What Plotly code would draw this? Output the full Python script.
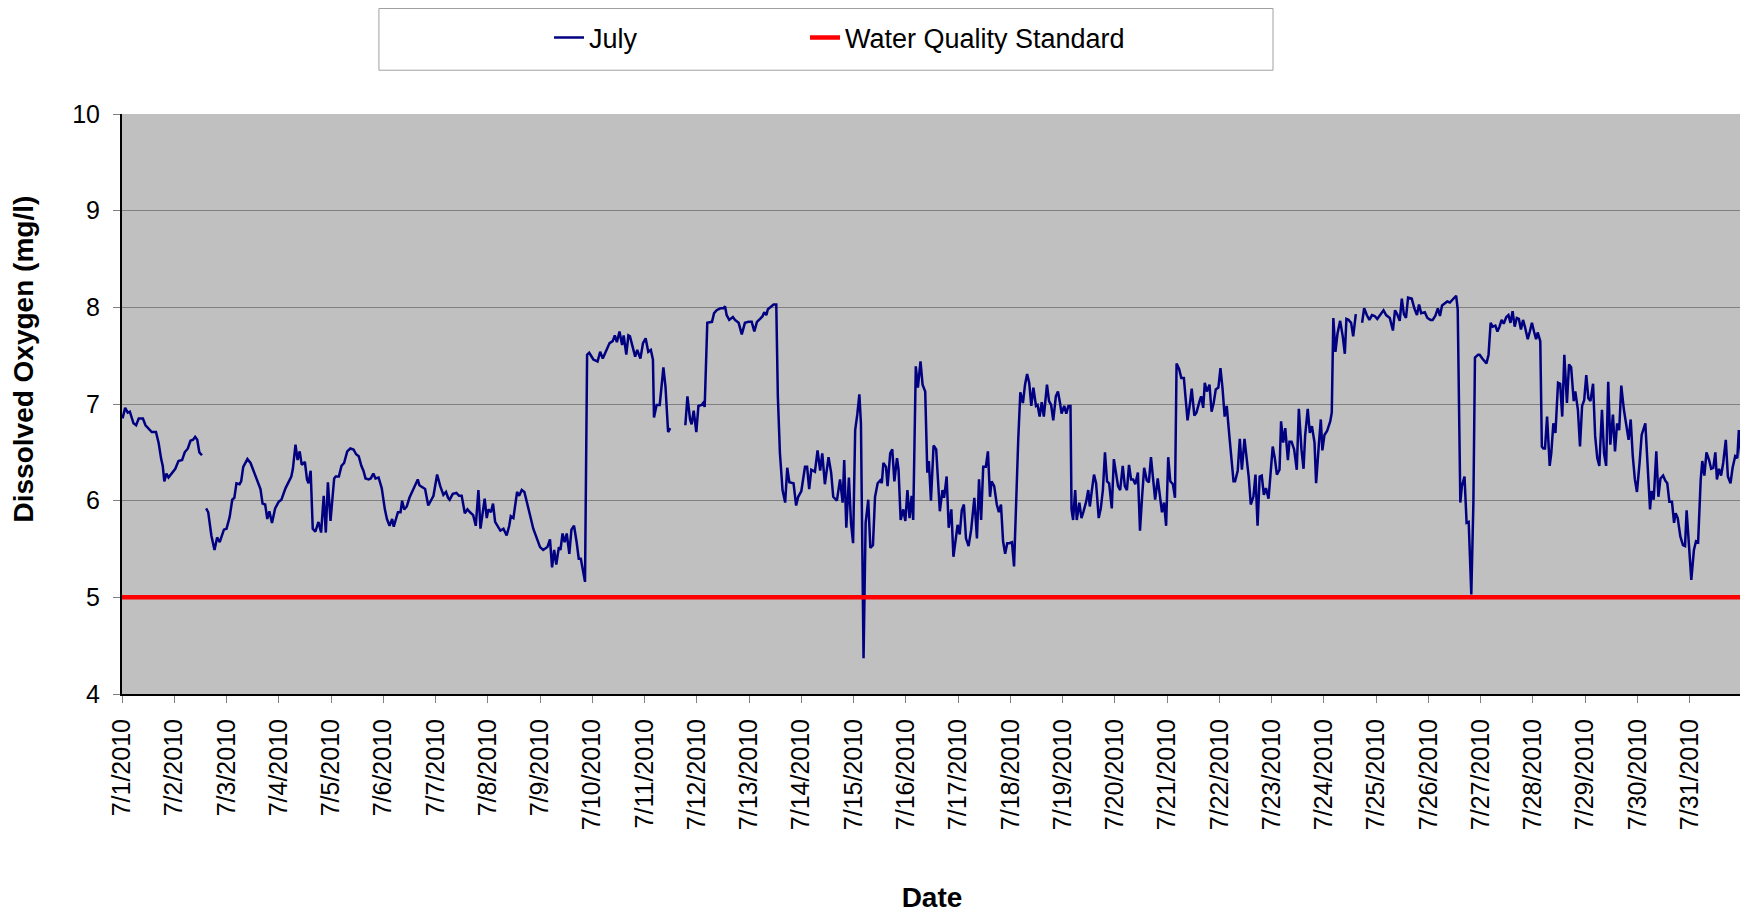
import pandas as pd
import plotly.graph_objs as go

# === DATA ===
start_date = pd.Timestamp('2010-07-01')

# elapsed days since 7/1/2010 00:00 (None in values = logger gap)
days = [
    0.01, 0.06, 0.11, 0.15, 0.22, 0.27, 0.32, 0.40, 0.45, 0.51, 0.57, 0.65, 0.70, 0.75, 0.78, 0.81,
    0.85, 0.89, 0.96, 1.02, 1.08, 1.15, 1.20, 1.26, 1.31, 1.36, 1.40, 1.44, 1.48, 1.53, 1.57,
    1.61, 1.65, 1.71, 1.77, 1.82, 1.87, 1.95, 2.00, 2.06, 2.11, 2.15, 2.19, 2.25, 2.28, 2.32, 2.40,
    2.46, 2.54, 2.60, 2.65, 2.69, 2.74, 2.78, 2.82, 2.87, 2.93, 3.00, 3.05, 3.13, 3.18, 3.24, 3.27,
    3.32, 3.36, 3.40, 3.44, 3.50, 3.54, 3.57, 3.61, 3.65, 3.70, 3.76, 3.81, 3.86, 3.90, 3.94, 3.99,
    4.06, 4.09, 4.15, 4.20, 4.25, 4.31, 4.37, 4.43, 4.48, 4.53, 4.58, 4.62, 4.66, 4.72, 4.76, 4.81,
    4.85, 4.91, 4.97, 5.03, 5.07, 5.12, 5.17, 5.20, 5.28, 5.33, 5.36, 5.40, 5.45, 5.50, 5.58, 5.66,
    5.69, 5.80, 5.86, 5.92, 5.96, 6.03, 6.09, 6.15, 6.20, 6.24, 6.27, 6.33, 6.40, 6.45, 6.50, 6.56,
    6.61, 6.66, 6.72, 6.77, 6.82, 6.86, 6.90, 6.94, 6.98, 7.01, 7.06, 7.10, 7.14, 7.20, 7.24, 7.30,
    7.36, 7.41, 7.44, 7.49, 7.56, 7.60, 7.65, 7.70, 7.74, 7.79, 7.87, 7.93, 8.00, 8.06, 8.14, 8.19,
    8.23, 8.27, 8.31, 8.36, 8.39, 8.43, 8.47, 8.51, 8.56, 8.60, 8.65, 8.70, 8.74, 8.78, 8.86, 8.90,
    8.94, 9.02, 9.10, 9.15, 9.20, 9.28, 9.33, 9.39, 9.43, 9.47, 9.52, 9.57, 9.60, 9.65, 9.69, 9.72,
    9.78, 9.82, 9.86, 9.92, 9.97, 10.02, 10.07, 10.12, 10.16, 10.18, 10.23, 10.29, 10.36, 10.40, 10.45, 10.49,
    10.60, 10.78, 10.82, 10.87, 10.90, 10.94, 10.99, 11.03, 11.09, 11.12, 11.15, 11.20, 11.29, 11.33, 11.38, 11.45,
    11.51, 11.54, 11.57, 11.62, 11.69, 11.73, 11.80, 11.86, 11.92, 11.99, 12.05, 12.10, 12.15, 12.21, 12.26, 12.29,
    12.33, 12.36, 12.40, 12.47, 12.52, 12.55, 12.59, 12.64, 12.69, 12.73, 12.77, 12.85, 12.90, 12.94, 13.00, 13.04,
    13.07, 13.11, 13.15, 13.19, 13.26, 13.31, 13.36, 13.40, 13.45, 13.52, 13.57, 13.61, 13.68, 13.74, 13.79, 13.82,
    13.86, 13.91, 13.95, 13.99, 14.03, 14.07, 14.11, 14.14, 14.19, 14.23, 14.28, 14.32, 14.37, 14.41, 14.46, 14.51,
    14.54, 14.57, 14.62, 14.65, 14.70, 14.74, 14.78, 14.83, 14.86, 14.90, 14.95, 14.99, 15.03, 15.07, 15.11, 15.14,
    15.19, 15.23, 15.28, 15.32, 15.37, 15.41, 15.44, 15.48, 15.53, 15.58, 15.62, 15.65, 15.70, 15.73, 15.75, 15.78,
    15.82, 15.87, 15.91, 15.95, 15.99, 16.03, 16.07, 16.11, 16.15, 16.20, 16.25, 16.31, 16.36, 16.40, 16.44, 16.48,
    16.53, 16.57, 16.61, 16.64, 16.69, 16.74, 16.78, 16.82, 16.86, 16.90, 16.94, 16.98, 17.03, 17.07, 17.12, 17.15,
    17.19, 17.24, 17.28, 17.32, 17.36, 17.40, 17.44, 17.49, 17.52, 17.56, 17.60, 17.64, 17.70, 17.74, 17.78, 17.82,
    17.87, 17.91, 17.95, 17.98, 18.03, 18.07, 18.11, 18.15, 18.17, 18.20, 18.24, 18.27, 18.32, 18.36, 18.40, 18.45,
    18.49, 18.52, 18.56, 18.60, 18.64, 18.69, 18.73, 18.77, 18.81, 18.85, 18.89, 18.94, 18.98, 19.02, 19.06, 19.10,
    19.15, 19.19, 19.23, 19.27, 19.31, 19.35, 19.39, 19.44, 19.48, 19.52, 19.56, 19.61, 19.65, 19.69, 19.74, 19.77,
    19.82, 19.86, 19.90, 19.94, 19.98, 20.02, 20.06, 20.11, 20.15, 20.18, 20.23, 20.27, 20.32, 20.35, 20.39, 20.44,
    20.47, 20.52, 20.56, 20.62, 20.65, 20.69, 20.72, 20.76, 20.81, 20.85, 20.89, 20.93, 20.98, 21.02, 21.06, 21.10,
    21.14, 21.19, 21.23, 21.27, 21.30, 21.35, 21.39, 21.43, 21.48, 21.52, 21.56, 21.60, 21.65, 21.69, 21.73, 21.77,
    21.81, 21.85, 21.89, 21.94, 21.97, 22.02, 22.06, 22.10, 22.15, 22.18, 22.22, 22.26, 22.31, 22.34, 22.38, 22.43,
    22.48, 22.52, 22.57, 22.61, 22.64, 22.69, 22.73, 22.77, 22.82, 22.85, 22.90, 22.94, 22.97, 23.01, 23.06, 23.12,
    23.15, 23.18, 23.22, 23.26, 23.31, 23.36, 23.40, 23.43, 23.47, 23.52, 23.56, 23.61, 23.66, 23.73, 23.77, 23.82,
    23.87, 23.92, 23.97, 24.02, 24.07, 24.14, 24.19, 24.26, 24.32, 24.36, 24.40, 24.45, 24.49, 24.53, 24.57, 24.61,
    24.68, 24.73, 24.78, 24.82, 24.86, 24.93, 24.98, 25.04, 25.08, 25.13, 25.18, 25.22, 25.26, 25.31, 25.36, 25.41,
    25.46, 25.53, 25.56, 25.58, 25.61, 25.64, 25.69, 25.73, 25.77, 25.82, 25.86, 25.89, 25.95, 25.98, 26.03, 26.11,
    26.15, 26.19, 26.23, 26.28, 26.32, 26.36, 26.40, 26.44, 26.49, 26.53, 26.57, 26.61, 26.65, 26.69, 26.73, 26.77,
    26.81, 26.85, 26.90, 26.94, 26.98, 27.02, 27.06, 27.09, 27.14, 27.17, 27.20, 27.23, 27.27, 27.32, 27.35, 27.39,
    27.43, 27.48, 27.52, 27.56, 27.60, 27.65, 27.69, 27.73, 27.78, 27.81, 27.86, 27.90, 27.94, 27.98, 28.02, 28.06,
    28.10, 28.15, 28.19, 28.23, 28.27, 28.32, 28.36, 28.40, 28.44, 28.48, 28.53, 28.57, 28.61, 28.65, 28.69, 28.74,
    28.78, 28.83, 28.87, 28.91, 28.95, 28.99, 29.04, 29.08, 29.15, 29.19, 29.24, 29.27, 29.31, 29.36, 29.40, 29.44,
    29.49, 29.53, 29.57, 29.61, 29.66, 29.70, 29.73, 29.77, 29.82, 29.87, 29.91, 29.94, 29.99, 30.03, 30.08, 30.12,
    30.16, 30.21, 30.24, 30.28, 30.32, 30.37, 30.41, 30.45, 30.49, 30.52, 30.56, 30.60, 30.64, 30.69, 30.73, 30.78,
    30.82, 30.87, 30.91, 30.94, 31.00,
]

dissolved_oxygen = [
    6.85, 6.96, 6.91, 6.92, 6.80, 6.78, 6.85, 6.85, 6.78, 6.75, 6.71, 6.71, 6.60, 6.43, 6.36, 6.20,
    6.28, 6.24, 6.29, 6.33, 6.41, 6.42, 6.50, 6.54, 6.62, 6.63, 6.66, 6.63, 6.50, 6.47, None,
    5.92, 5.88, 5.64, 5.49, 5.62, 5.57, 5.70, 5.71, 5.83, 6.01, 6.03, 6.18, 6.17, 6.20, 6.35, 6.43,
    6.39, 6.27, 6.19, 6.12, 5.97, 5.96, 5.81, 5.89, 5.77, 5.92, 5.99, 6.01, 6.13, 6.19, 6.25, 6.33,
    6.58, 6.42, 6.51, 6.37, 6.40, 6.22, 6.18, 6.31, 5.71, 5.68, 5.78, 5.67, 6.05, 5.67, 6.19, 5.79,
    6.23, 6.25, 6.25, 6.36, 6.39, 6.51, 6.54, 6.53, 6.48, 6.46, 6.36, 6.31, 6.23, 6.22, 6.23, 6.28,
    6.23, 6.24, 6.13, 5.91, 5.81, 5.74, 5.81, 5.73, 5.88, 5.88, 6.00, 5.91, 5.94, 6.03, 6.12, 6.22,
    6.16, 6.12, 5.95, 6.01, 6.05, 6.27, 6.15, 6.06, 6.09, 6.03, 6.01, 6.07, 6.08, 6.05, 6.05, 5.87,
    5.91, 5.88, 5.85, 5.74, 6.11, 5.71, 5.89, 6.02, 5.82, 5.91, 5.88, 5.97, 5.78, 5.72, 5.69, 5.71,
    5.64, 5.74, 5.84, 5.82, 6.09, 6.05, 6.11, 6.09, 5.99, 5.89, 5.71, 5.62, 5.52, 5.49, 5.52, 5.60,
    5.31, 5.49, 5.34, 5.52, 5.49, 5.66, 5.57, 5.66, 5.45, 5.70, 5.74, 5.57, 5.40, 5.40, 5.16, 7.51,
    7.53, 7.46, 7.44, 7.54, 7.47, 7.57, 7.63, 7.65, 7.71, 7.64, 7.75, 7.61, 7.71, 7.51, 7.71, 7.70,
    7.56, 7.49, 7.56, 7.47, 7.63, 7.68, 7.54, 7.56, 7.46, 6.86, 6.99, 6.99, 7.38, 7.18, 6.71, 6.75,
    None, 6.78, 7.08, 6.84, 6.79, 6.93, 6.71, 6.98, 6.99, 7.01, 6.97, 7.84, 7.85, 7.94, 7.97, 7.99,
    7.99, 8.01, 7.92, 7.87, 7.90, 7.87, 7.84, 7.72, 7.84, 7.85, 7.85, 7.75, 7.85, 7.88, 7.91, 7.95,
    7.92, 7.98, 8.00, 8.03, 8.03, 7.08, 6.49, 6.11, 5.98, 6.34, 6.19, 6.18, 5.95, 6.04, 6.10, 6.27,
    6.35, 6.35, 6.12, 6.32, 6.30, 6.52, 6.31, 6.49, 6.17, 6.45, 6.29, 6.04, 6.00, 6.22, 5.98, 6.42,
    5.72, 6.24, 5.77, 5.56, 6.73, 6.89, 7.10, 6.80, 4.37, 5.77, 6.01, 5.51, 5.54, 6.04, 6.18, 6.21,
    6.18, 6.39, 6.35, 6.15, 6.49, 6.53, 6.20, 6.44, 6.32, 5.80, 5.91, 5.79, 6.11, 5.82, 6.05, 5.80,
    7.39, 7.17, 7.44, 7.20, 7.13, 6.29, 6.41, 6.00, 6.57, 6.53, 6.15, 5.89, 6.11, 6.03, 6.11, 6.25,
    5.72, 5.91, 5.42, 5.60, 5.75, 5.65, 5.90, 5.96, 5.61, 5.53, 5.70, 6.03, 5.61, 6.22, 5.80, 6.35,
    6.35, 6.51, 6.04, 6.20, 6.15, 5.96, 5.88, 5.96, 5.58, 5.45, 5.56, 5.56, 5.57, 5.32, 6.22, 6.63,
    7.12, 7.01, 7.20, 7.31, 7.22, 6.98, 7.17, 6.98, 6.99, 6.87, 7.02, 6.87, 7.20, 7.03, 6.99, 6.83,
    7.08, 7.13, 7.01, 6.90, 6.98, 6.90, 6.98, 6.98, 5.91, 5.80, 6.11, 5.80, 5.98, 5.82, 5.89, 5.99,
    6.11, 5.94, 6.11, 6.27, 6.18, 5.82, 5.92, 6.11, 6.50, 6.20, 6.18, 5.92, 6.43, 6.27, 6.15, 6.11,
    6.36, 6.15, 6.11, 6.37, 6.22, 6.22, 6.17, 6.29, 5.69, 6.04, 6.34, 6.21, 6.19, 6.45, 6.18, 6.01,
    6.23, 6.04, 5.88, 5.98, 5.74, 6.45, 6.20, 6.17, 6.03, 7.42, 7.36, 7.27, 7.27, 7.08, 6.83, 7.02,
    7.16, 6.88, 6.91, 7.03, 7.08, 6.96, 7.22, 7.13, 7.20, 6.92, 7.01, 7.15, 7.17, 7.37, 7.16, 6.87,
    6.98, 6.67, 6.46, 6.20, 6.20, 6.31, 6.64, 6.32, 6.64, 6.46, 6.25, 5.96, 6.04, 6.27, 5.74, 6.25,
    6.26, 6.06, 6.13, 6.02, 6.25, 6.56, 6.44, 6.27, 6.32, 6.82, 6.60, 6.75, 6.42, 6.61, 6.61, 6.53,
    6.32, 6.95, 6.53, 6.33, 6.67, 6.95, 6.70, 6.77, 6.60, 6.18, 6.56, 6.84, 6.52, 6.68, 6.72, 6.82,
    6.91, 7.89, 7.54, 7.73, 7.86, 7.70, 7.52, 7.88, 7.87, 7.84, 7.70, 7.93, None, 7.84, 7.99, 7.92,
    7.87, 7.92, 7.91, 7.88, 7.92, 7.97, 7.92, 7.89, 7.76, 7.97, 7.93, 7.86, 8.09, 7.93, 7.89, 8.10,
    8.09, 7.99, 7.92, 8.03, 7.94, 7.95, 7.89, 7.87, 7.87, 7.91, 7.99, 7.91, 8.02, 8.04, 8.06, 8.05,
    8.08, 8.12, 7.98, 7.01, 5.98, 6.15, 6.25, 5.77, 5.78, 5.03, 5.98, 7.48, 7.51, 7.51, 7.47, 7.42,
    7.51, 7.84, 7.80, 7.81, 7.75, 7.80, 7.87, 7.83, 7.90, 7.92, 7.84, 7.96, 7.80, 7.89, 7.88, 7.77,
    7.87, 7.79, 7.67, 7.75, 7.84, 7.75, 7.67, 7.74, 7.65, 6.56, 6.54, 6.54, 6.87, 6.36, 6.49, 6.80,
    6.70, 7.22, 7.21, 6.87, 7.51, 7.01, 7.41, 7.38, 7.03, 7.13, 6.94, 6.56, 6.98, 7.04, 7.30, 7.06,
    7.03, 7.21, 6.67, 6.44, 6.36, 6.94, 6.49, 6.36, 7.23, 6.58, 6.89, 6.51, 6.80, 6.73, 7.19, 6.94,
    6.80, 6.63, 6.84, 6.46, 6.22, 6.09, 6.39, 6.68, 6.80, 6.39, 5.91, 6.10, 6.01, 6.51, 6.04, 6.23,
    6.26, 6.21, 6.18, 5.99, 5.99, 5.77, 5.87, 5.82, 5.63, 5.54, 5.53, 5.90, 5.46, 5.18, 5.49, 5.58,
    5.57, 6.22, 6.41, 6.26, 6.50, 6.42, 6.33, 6.34, 6.50, 6.22, 6.33, 6.26, 6.39, 6.63, 6.25, 6.18,
    6.34, 6.46, 6.44, 6.73, 6.37,
]

water_quality_standard = 5.0

# last tick (8/1) is drawn without a label, as in the original
tick_dates = [
    '2010-07-01', '2010-07-02', '2010-07-03', '2010-07-04', '2010-07-05', '2010-07-06', '2010-07-07',
    '2010-07-08', '2010-07-09', '2010-07-10', '2010-07-11', '2010-07-12', '2010-07-13', '2010-07-14',
    '2010-07-15', '2010-07-16', '2010-07-17', '2010-07-18', '2010-07-19', '2010-07-20', '2010-07-21',
    '2010-07-22', '2010-07-23', '2010-07-24', '2010-07-25', '2010-07-26', '2010-07-27', '2010-07-28',
    '2010-07-29', '2010-07-30', '2010-07-31', '2010-08-01',
]
tick_labels = [
    '7/1/2010', '7/2/2010', '7/3/2010', '7/4/2010', '7/5/2010', '7/6/2010', '7/7/2010', '7/8/2010',
    '7/9/2010', '7/10/2010', '7/11/2010', '7/12/2010', '7/13/2010', '7/14/2010', '7/15/2010', '7/16/2010',
    '7/17/2010', '7/18/2010', '7/19/2010', '7/20/2010', '7/21/2010', '7/22/2010', '7/23/2010', '7/24/2010',
    '7/25/2010', '7/26/2010', '7/27/2010', '7/28/2010', '7/29/2010', '7/30/2010', '7/31/2010', '',
]

# === Build time axis ===
times = start_date + pd.to_timedelta(days, unit='D')
end_date = pd.Timestamp(tick_dates[-1])

FONT = 'Liberation Sans, Arial, sans-serif'

fig = go.Figure()

fig.add_trace(
    go.Scatter(
        x=times,
        y=dissolved_oxygen,
        mode='lines',
        name='July',
        line=dict(color='#000080', width=2.5),
        connectgaps=False,
        legend='legend',
    )
)
fig.add_trace(
    go.Scatter(
        x=[start_date, end_date],
        y=[water_quality_standard, water_quality_standard],
        mode='lines',
        name='Water Quality Standard',
        line=dict(color='#FF0000', width=4.5),
        legend='legend2',
    )
)

# legend frame (Excel style box above the plot)
fig.add_shape(type='rect', xref='paper', yref='paper',
              x0=0.1586, x1=0.7105, y0=1.0755, y1=1.1819,
              line=dict(color='#A0A0A0', width=1), fillcolor='white', layer='below')

# y title sits above centre in the original, so it is placed by hand
fig.add_annotation(
    text='Dissolved Oxygen (mg/l)', textangle=-90,
    xref='paper', yref='paper', x=-0.0602, y=0.5776,
    xanchor='center', yanchor='middle', showarrow=False,
    font=dict(family=FONT, size=28, weight='bold', color='black'),
)

legend_style = dict(
    orientation='h',
    yanchor='middle', y=1.131,
    xanchor='left',
    bgcolor='rgba(0,0,0,0)',
    borderwidth=0,
    font=dict(family=FONT, size=27),
)

# page body has an 8px margin, so the figure is sized/offset to compensate
fig.update_layout(
    width=1740,
    height=905,
    margin=dict(l=114, r=6, t=106, b=219),
    paper_bgcolor='white',
    plot_bgcolor='#C0C0C0',
    font=dict(family=FONT, color='black'),
    showlegend=True,
    legend=dict(legend_style, x=0.2636),
    legend2=dict(legend_style, x=0.4216),
    xaxis=dict(
        type='date',
        range=[start_date, end_date],
        tickmode='array',
        tickvals=pd.to_datetime(tick_dates),
        ticktext=tick_labels,
        tickangle=-90,
        tickfont=dict(family=FONT, size=25),
        ticks='outside', ticklen=7, tickcolor='#808080', tickwidth=1,
        ticklabelstandoff=6,
        showgrid=False,
        showline=True, linecolor='black', linewidth=2,
        zeroline=False,
        automargin=False,
        title=dict(text='Date', font=dict(family=FONT, size=28, weight='bold'), standoff=60),
    ),
    yaxis=dict(
        range=[4, 10],
        dtick=1,
        tickfont=dict(family=FONT, size=25),
        ticks='outside', ticklen=7, tickcolor='#808080', tickwidth=1,
        ticklabelstandoff=8,
        showgrid=True, gridcolor='#808080', gridwidth=1,
        showline=True, linecolor='black', linewidth=2,
        zeroline=False,
        automargin=False,
    ),
)

fig.write_html("out.html")
